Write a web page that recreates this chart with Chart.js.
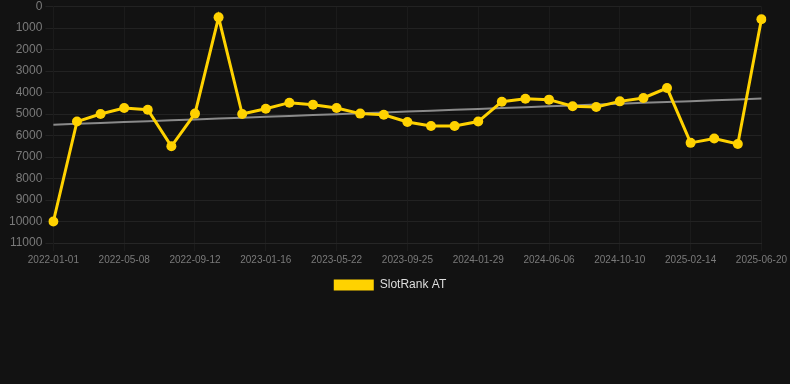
<!DOCTYPE html>
<html>
<head>
<meta charset="utf-8">
<script src="https://cdn.jsdelivr.net/npm/chart.js@4/dist/chart.umd.min.js"></script>
<style>
  html, body { margin: 0; padding: 0; background: #121212; }
  #wrap { width: 790px; height: 301px; position: relative; }
</style>
</head>
<body>
<div id="wrap"><canvas id="rankChart"></canvas></div>
<script>
const dates = [
    '2022-01-01', '2022-02-12', '2022-03-26', '2022-05-08', '2022-06-19', '2022-07-31',
    '2022-09-12', '2022-10-24', '2022-12-05', '2023-01-16', '2023-02-27', '2023-04-10',
    '2023-05-22', '2023-07-03', '2023-08-14', '2023-09-25', '2023-11-06', '2023-12-18',
    '2024-01-29', '2024-03-11', '2024-04-23', '2024-06-06', '2024-07-18', '2024-08-29',
    '2024-10-10', '2024-11-21', '2025-01-02', '2025-02-14', '2025-03-28', '2025-05-09',
    '2025-06-20'
];
const ranks = [
    10000, 5350, 5000, 4720, 4800, 6500,
    4980, 500, 5000, 4750, 4470, 4565,
    4720, 4980, 5030, 5370, 5555, 5555,
    5350, 4425, 4285, 4330, 4640, 4670,
    4410, 4250, 3790, 6340, 6140, 6390,
    590
];
const yTicks = [0, 1000, 2000, 3000, 4000, 5000, 6000, 7000, 8000, 9000, 10000, 11000];

// least squares trend over the ranks
let n = ranks.length;
let mx = (n - 1) / 2;
let my = ranks.reduce((a, b) => a + b, 0) / n;
let num = 0, den = 0;
ranks.forEach((v, i) => { num += (i - mx) * (v - my); den += (i - mx) * (i - mx); });
let slope = num / den;
const trend = ranks.map((v, i) => my + slope * (i - mx));

const hGrid = '#222222';
const vGrid = '#1b1b1b';
const tickColor = '#7a7a7a';
const fontFamily = 'Liberation Sans, Arial, sans-serif';

// nudge the legend a bit to the left, like the original
const legendShift = {
    id: 'legendShift',
    afterLayout: (chart) => {
        if (chart.legend) {
            chart.legend.left -= 6;
            chart.legend.right -= 6;
        }
    }
};

let ctx = document.getElementById('rankChart').getContext('2d');
let chart = new Chart(ctx, {
    type: 'line',
    data: {
        labels: dates,
        datasets: [{
            label: 'SlotRank AT',
            data: ranks,
            borderColor: '#FFD200',
            backgroundColor: '#FFD200',
            borderWidth: 3,
            pointRadius: 5,
            pointBackgroundColor: '#FFD200',
            pointBorderWidth: 0,
            tension: 0
        }, {
            label: 'trend',
            data: trend,
            borderColor: '#8a8a8a',
            borderWidth: 2,
            pointRadius: 0,
            fill: false
        }]
    },
    plugins: [legendShift],
    options: {
        responsive: true,
        maintainAspectRatio: false,
        animation: false,
        layout: { padding: { left: 6, right: 4, top: 0 } },
        scales: {
            x: {
                grid: {
                    color: (c) => (c.index % 3 === 0 ? vGrid : 'transparent'),
                    tickColor: (c) => (c.index % 3 === 0 ? vGrid : 'transparent')
                },
                border: { color: '#262626' },
                ticks: {
                    color: tickColor,
                    font: { size: 10, family: fontFamily },
                    autoSkip: false,
                    maxRotation: 0,
                    callback: function (val, i) { return i % 3 === 0 ? dates[i] : ''; }
                }
            },
            y: {
                reverse: true,
                min: yTicks[0],
                max: yTicks[yTicks.length - 1],
                grid: { color: hGrid, tickColor: hGrid },
                border: { color: vGrid },
                afterBuildTicks: (axis) => { axis.ticks = yTicks.map(v => ({ value: v })); },
                ticks: {
                    color: tickColor,
                    font: { size: 12, family: fontFamily, lineHeight: 0.6 },
                    callback: (v) => String(v)
                }
            }
        },
        plugins: {
            legend: {
                position: 'bottom',
                labels: {
                    color: '#dddddd',
                    font: { size: 12, family: fontFamily },
                    boxWidth: 40,
                    boxHeight: 11,
                    generateLabels: (chart) => Chart.defaults.plugins.legend.labels.generateLabels(chart)
                        .filter(item => item.text !== 'trend')
                        .map(item => Object.assign(item, { lineWidth: 0 }))
                }
            },
            tooltip: { enabled: true }
        }
    }
});
</script>
</body>
</html>
